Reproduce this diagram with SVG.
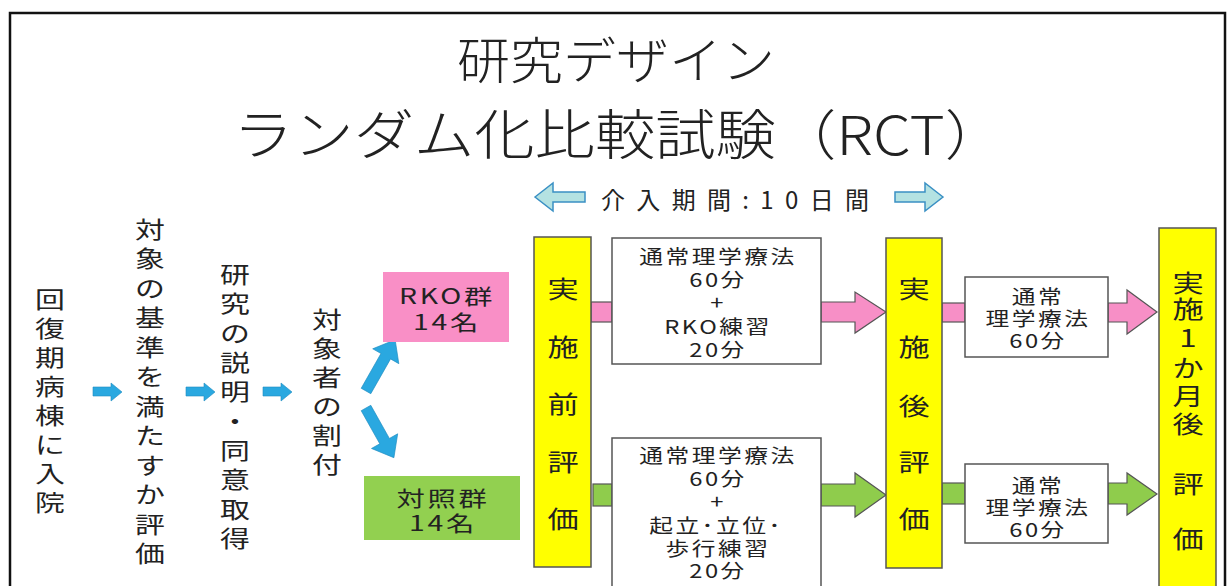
<svg xmlns="http://www.w3.org/2000/svg" width="1229" height="586" viewBox="0 0 1229 586">
<style>
text{font-family:"Noto Sans CJK JP","Noto Sans",sans-serif;fill:#222;dominant-baseline:central;text-anchor:middle}
.ttl{font-weight:300}
.vt{font-size:23px}
.yt{font-size:24px}
.bt{font-size:19px;letter-spacing:2px}
.gt{font-size:21px;letter-spacing:2px}
.yel{fill:#ffff00;stroke:#555;stroke-width:1.5}
.wb{fill:#fff;stroke:#555;stroke-width:1.5}
.pk{fill:#f78fc6;stroke:#555;stroke-width:1.2}
.gr{fill:#8fcc4c;stroke:#555;stroke-width:1.2}
.bl{fill:#2aa8e0;stroke:#1e8cc0;stroke-width:0.6}
.hol{fill:#b4e2e2;stroke:#3a90c4;stroke-width:1.5}
</style>
<rect x="0" y="0" width="1229" height="586" fill="#fff"/>
<rect id="frame" x="10" y="13" width="1215" height="620" fill="none" stroke="#111" stroke-width="2.5"/>

<g id="title">
<text class="ttl" x="616" y="57" font-size="50" textLength="318" lengthAdjust="spacingAndGlyphs">研究デザイン</text>
<text class="ttl" x="619" y="131" font-size="54" textLength="772" lengthAdjust="spacingAndGlyphs">ランダム化比較試験（RCT）</text>
</g>

<g id="period">
<polygon class="hol" points="535,197 553,183 553,192 585,192 585,202 553,202 553,211"/>
<text x="735" y="198" font-size="24" textLength="268" lengthAdjust="spacing">介入期間:10日間</text>
<polygon class="hol" points="943,197 925,183 925,192 895,192 895,202 925,202 925,211"/>
</g>

<g id="connectors">
<polygon class="bl" points="93,387 111,387 111,383 122,392 111,401 111,396 93,396"/>
<polygon class="bl" points="186,387 204,387 204,383 215,392 204,401 204,396 186,396"/>
<polygon class="bl" points="263,387 281,387 281,383 292,392 281,401 281,396 263,396"/>
<polygon class="bl" transform="translate(366,391) rotate(-60.4)" points="0,-5.5 40,-5.5 40,-15 59,0 40,15 40,5.5 0,5.5"/>
<polygon class="bl" transform="translate(366,408) rotate(60.7)" points="0,-5.5 38,-5.5 38,-15 57,0 38,15 38,5.5 0,5.5"/>
<rect class="pk" x="591" y="302" width="21" height="20"/>
<polygon class="pk" points="821,302 855,302 855,292 886,312 855,333 855,322 821,322"/>
<rect class="gr" x="593" y="484" width="19" height="22"/>
<polygon class="gr" points="821,484 855,484 855,473 886,495 855,517 855,506 821,506"/>
<rect class="pk" x="942" y="303" width="23" height="19"/>
<polygon class="pk" points="1108,303 1127,303 1127,290 1157,312 1127,334 1127,322 1108,322"/>
<rect class="gr" x="942" y="483" width="23" height="21"/>
<polygon class="gr" points="1108,483 1127,483 1127,473 1157,494 1127,515 1127,504 1108,504"/>
</g>

<g id="admit">
<text class="vt" transform="translate(50,0) scale(1.3,1)"><tspan x="0" y="298">回</tspan><tspan x="0" y="327">復</tspan><tspan x="0" y="356">期</tspan><tspan x="0" y="385">病</tspan><tspan x="0" y="414">棟</tspan><tspan x="0" y="443">に</tspan><tspan x="0" y="472">入</tspan><tspan x="0" y="501">院</tspan></text>
</g>
<g id="criteria">
<text class="vt" transform="translate(150,0) scale(1.3,1)"><tspan x="0" y="228">対</tspan><tspan x="0" y="257">象</tspan><tspan x="0" y="287">の</tspan><tspan x="0" y="316">基</tspan><tspan x="0" y="346">準</tspan><tspan x="0" y="375">を</tspan><tspan x="0" y="405">満</tspan><tspan x="0" y="434">た</tspan><tspan x="0" y="464">す</tspan><tspan x="0" y="493">か</tspan><tspan x="0" y="523">評</tspan><tspan x="0" y="552">価</tspan></text>
</g>
<g id="consent">
<text class="vt" transform="translate(235,0) scale(1.3,1)"><tspan x="0" y="273">研</tspan><tspan x="0" y="302">究</tspan><tspan x="0" y="332">の</tspan><tspan x="0" y="361">説</tspan><tspan x="0" y="390">明</tspan><tspan x="0" y="420">・</tspan><tspan x="0" y="449">同</tspan><tspan x="0" y="478">意</tspan><tspan x="0" y="508">取</tspan><tspan x="0" y="537">得</tspan></text>
</g>
<g id="allocate">
<text class="vt" transform="translate(327,0) scale(1.3,1)"><tspan x="0" y="318">対</tspan><tspan x="0" y="347">象</tspan><tspan x="0" y="376">者</tspan><tspan x="0" y="405">の</tspan><tspan x="0" y="434">割</tspan><tspan x="0" y="463">付</tspan></text>
</g>

<g id="rko-group">
<rect x="383" y="272" width="126" height="70" fill="#f98fc6"/>
<text class="gt" transform="translate(447,295) scale(1.35,1)">RKO群</text>
<text class="gt" transform="translate(447,321) scale(1.35,1)">14名</text>
</g>
<g id="control-group">
<rect x="364" y="476" width="156" height="64" fill="#92d050"/>
<text class="gt" transform="translate(443,497) scale(1.35,1)">対照群</text>
<text class="gt" transform="translate(443,522) scale(1.35,1)">14名</text>
</g>

<g id="pre-eval">
<rect class="yel" x="534" y="237" width="57" height="330"/>
<text class="yt" transform="translate(563,0) scale(1.3,1)"><tspan x="0" y="288">実</tspan><tspan x="0" y="346">施</tspan><tspan x="0" y="403">前</tspan><tspan x="0" y="461">評</tspan><tspan x="0" y="518">価</tspan></text>
</g>
<g id="rko-intervention">
<rect class="wb" x="612" y="238" width="209" height="126"/>
<text class="bt" transform="translate(718,256) scale(1.25,1)">通常理学療法</text>
<text class="bt" transform="translate(718,279) scale(1.25,1)">60分</text>
<text class="bt" transform="translate(718,302) scale(1.25,1)">+</text>
<text class="bt" transform="translate(718,326) scale(1.25,1)">RKO練習</text>
<text class="bt" transform="translate(718,349) scale(1.25,1)">20分</text>
</g>
<g id="control-intervention">
<rect class="wb" x="612" y="438" width="209" height="170"/>
<text class="bt" transform="translate(718,455) scale(1.25,1)">通常理学療法</text>
<text class="bt" transform="translate(718,478) scale(1.25,1)">60分</text>
<text class="bt" transform="translate(718,501) scale(1.25,1)">+</text>
<text class="bt" transform="translate(716,525) scale(1.25,1)">起立･立位･</text>
<text class="bt" transform="translate(718,548) scale(1.25,1)">歩行練習</text>
<text class="bt" transform="translate(718,570) scale(1.25,1)">20分</text>
</g>
<g id="post-eval">
<rect class="yel" x="886" y="238" width="56" height="330"/>
<text class="yt" transform="translate(914,0) scale(1.3,1)"><tspan x="0" y="288">実</tspan><tspan x="0" y="346">施</tspan><tspan x="0" y="405">後</tspan><tspan x="0" y="461">評</tspan><tspan x="0" y="518">価</tspan></text>
</g>
<g id="rko-followup">
<rect class="wb" x="965" y="277" width="143" height="80"/>
<text class="bt" transform="translate(1038,296) scale(1.25,1)">通常</text>
<text class="bt" transform="translate(1038,318) scale(1.25,1)">理学療法</text>
<text class="bt" transform="translate(1038,340) scale(1.25,1)">60分</text>
</g>
<g id="control-followup">
<rect class="wb" x="965" y="464" width="143" height="79"/>
<text class="bt" transform="translate(1038,485) scale(1.25,1)">通常</text>
<text class="bt" transform="translate(1038,507) scale(1.25,1)">理学療法</text>
<text class="bt" transform="translate(1038,529) scale(1.25,1)">60分</text>
</g>
<g id="month-eval">
<rect class="yel" x="1159" y="228" width="57" height="400"/>
<text class="yt" transform="translate(1188,0) scale(1.3,1)"><tspan x="0" y="282">実</tspan><tspan x="0" y="308">施</tspan><tspan x="0" y="337">1</tspan><tspan x="0" y="367">か</tspan><tspan x="0" y="395">月</tspan><tspan x="0" y="423">後</tspan><tspan x="0" y="483">評</tspan><tspan x="0" y="538">価</tspan></text>
</g>
</svg>
